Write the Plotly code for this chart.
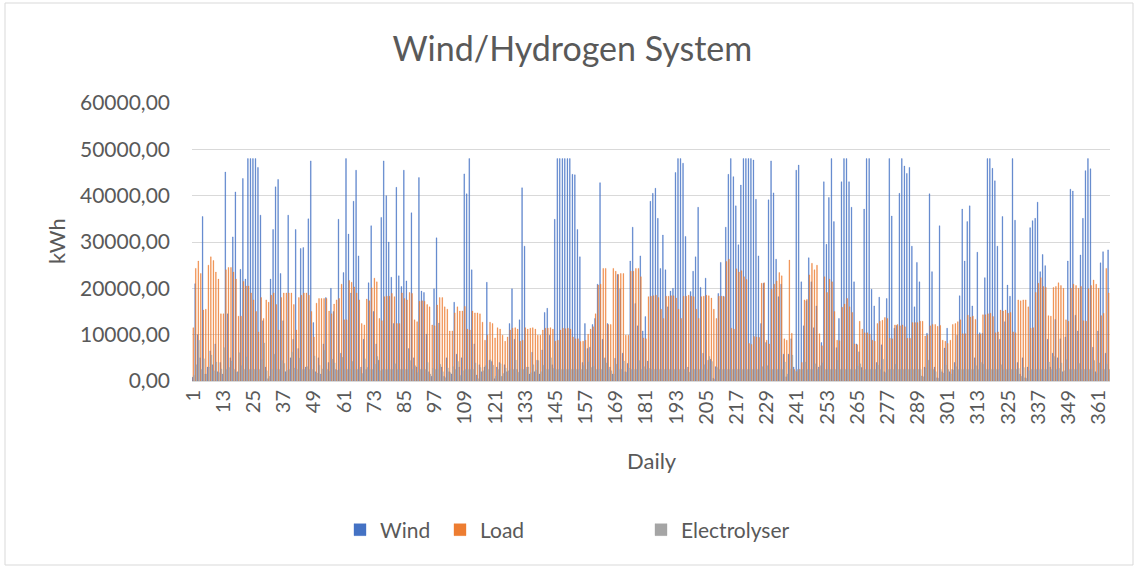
import plotly.graph_objects as go

# Daily energy values (kWh) for one year
days = list(range(1, 366))
tick_days = list(range(1, 366, 12))
tick_text = [str(d) for d in tick_days]

wind = [
    800, 21000, 10000, 5000, 35500, 1500, 3000, 6500, 3500, 8000,
    2000, 4000, 1500, 45100, 14500, 5000, 31100, 40800, 2000, 24100,
    43700, 22000, 48000, 48000, 48000, 48000, 46100, 35800, 13000, 3000,
    500, 22000, 32700, 41900, 43500, 23200, 13000, 2000, 35800, 5000,
    9000, 32700, 7000, 28600, 28800, 3000, 35000, 47500, 12600, 2000,
    5000, 1500, 8000, 18000, 4000, 20000, 15000, 2500, 34900, 6000,
    23400, 48000, 31700, 19000, 38800, 45500, 27000, 3000, 9000, 2500,
    21200, 33500, 15000, 8000, 4500, 35300, 47500, 40000, 30000, 22400,
    12400, 41800, 22700, 20400, 45500, 21600, 7000, 36300, 5000, 3000,
    43900, 19400, 19100, 10100, 2000, 1000, 19900, 30900, 12500, 3000,
    1000, 5000, 2000, 1500, 17000, 5800, 3000, 5000, 44700, 40400,
    48000, 24000, 8000, 1300, 3500, 2000, 3000, 21300, 4500, 4200,
    500, 3000, 4000, 1000, 3500, 2000, 12400, 19900, 9000, 2500,
    13200, 41700, 29100, 3000, 1500, 6200, 2000, 4500, 1500, 6700,
    14800, 15700, 9900, 3500, 34900, 48000, 48000, 48000, 48000, 48000,
    48000, 44600, 44500, 32700, 26800, 4000, 12400, 7000, 7300, 12200,
    13500, 20900, 42800, 9000, 5000, 12400, 3000, 1500, 4900, 23000,
    19900, 6000, 2000, 3800, 25900, 33200, 16700, 11900, 27000, 10800,
    13900, 4300, 38800, 40500, 41600, 35100, 24300, 31500, 24000, 16000,
    19400, 20000, 45000, 48000, 48000, 47000, 31200, 3000, 19300, 23700,
    26800, 37500, 20200, 6000, 22200, 4500, 4700, 600, 3100, 18900,
    25600, 18300, 33200, 44600, 48000, 44100, 37800, 29400, 42300, 48000,
    48000, 48000, 48000, 47700, 39200, 27000, 12400, 21100, 8300, 39100,
    47500, 40600, 26300, 18200, 20900, 5800, 900, 5800, 9100, 3000,
    45500, 46600, 21400, 11900, 17300, 26600, 21400, 11500, 16200, 3000,
    8300, 43000, 29500, 39600, 48000, 34400, 7200, 13500, 43000, 48000,
    48000, 43000, 37500, 21400, 8000, 6300, 2900, 37100, 48000, 48000,
    19800, 16200, 4000, 18100, 7800, 2000, 17800, 48000, 35600, 11400,
    12000, 40500, 48000, 46400, 44800, 46100, 29100, 16000, 25600, 21400,
    1100, 3000, 10300, 40400, 23600, 3000, 700, 33500, 2000, 7100,
    11400, 2000, 2500, 4000, 9900, 18400, 37100, 25900, 34400, 37800,
    16200, 5000, 27800, 10400, 10300, 22300, 48000, 48000, 45900, 43200,
    29100, 9000, 35500, 12800, 20700, 18300, 48000, 34700, 4000, 1500,
    5000, 700, 3000, 33100, 34600, 35100, 38600, 23600, 27300, 24900,
    9000, 3000, 6000, 13300, 5000, 9100, 2000, 9500, 25900, 41400,
    41000, 14200, 10800, 27200, 35100, 45400, 48000, 45800, 7300, 2000,
    10800, 25500, 27900, 6000, 28300,
]

load = [
    11500, 24300, 25900, 23200, 15300, 15500, 25000, 26800, 26000, 23500,
    22000, 14500, 14500, 24000, 24500, 24500, 23500, 22000, 14000, 14000,
    21500, 20500, 20500, 19000, 17500, 15000, 10600, 18000, 13500, 17500,
    17000, 18500, 19000, 16500, 11000, 18000, 19000, 19000, 19000, 19000,
    16500, 11000, 18000, 18500, 19000, 19000, 18500, 15000, 9500, 16800,
    17800, 17800, 17800, 17800, 15100, 14500, 16600, 17500, 17800, 20900,
    13200, 13200, 21700, 21300, 20300, 19000, 17500, 12400, 12100, 17700,
    17300, 20100, 22200, 21400, 13500, 13000, 18200, 18300, 18300, 18900,
    18200, 12400, 12400, 19000, 17800, 17500, 19100, 18900, 13200, 12800,
    17200, 17300, 17200, 16500, 16000, 12100, 11900, 16400, 18000, 18000,
    16000, 15500, 10800, 10800, 14700, 16000, 15100, 15100, 16100, 11200,
    11000, 15100, 14700, 14700, 14500, 12700, 8800, 9900, 12700, 12400,
    9300, 11500, 11200, 9900, 8600, 9500, 11000, 11400, 11500, 11200,
    8600, 8800, 11500, 11200, 11400, 11500, 11200, 9900, 9900, 11000,
    11400, 11400, 11500, 11200, 8600, 8800, 11000, 11400, 11300, 11400,
    11200, 9500, 9100, 9100, 8500, 8600, 8800, 10100, 11200, 11700,
    14500, 20700, 20900, 24300, 24300, 12200, 12200, 24300, 23700, 23000,
    23200, 23200, 9900, 9900, 23700, 23700, 24300, 24300, 22500, 9300,
    9100, 18200, 18300, 18400, 18500, 18000, 15500, 13500, 18300, 18300,
    18400, 18400, 17900, 15500, 13500, 18300, 18300, 18500, 18300, 18200,
    15500, 13500, 18200, 18300, 18500, 18400, 17900, 15500, 13500, 18300,
    18300, 18200, 25800, 26300, 11400, 11200, 24200, 23500, 23800, 22500,
    21900, 8100, 7900, 9600, 9500, 9400, 21100, 21200, 8800, 8000,
    19800, 20900, 21600, 23400, 22700, 9100, 8800, 26100, 10300, 2500,
    2000, 2500, 4000, 17500, 17600, 22900, 25400, 24000, 25000, 10200,
    7600, 22500, 19100, 22000, 21400, 15000, 8800, 8700, 15900, 16600,
    17800, 16000, 14800, 8000, 7800, 12900, 11200, 10400, 10400, 10100,
    8800, 8600, 12400, 12900, 13100, 13700, 13500, 9200, 9100, 12100,
    12200, 11900, 12100, 11700, 9200, 9200, 12600, 12600, 12600, 12900,
    12900, 9700, 9900, 11900, 12200, 12200, 11800, 12000, 8800, 8600,
    8100, 8800, 12200, 12400, 12800, 13200, 10200, 10200, 14200, 13800,
    14000, 13300, 10100, 10100, 14300, 14300, 14500, 14600, 13900, 10400,
    10600, 15300, 15100, 15300, 14600, 14800, 10600, 10400, 17500, 17300,
    17500, 17500, 16000, 11400, 11500, 19100, 21100, 22300, 20400, 20200,
    14100, 14000, 20200, 20400, 21200, 20600, 20000, 13200, 12900, 20000,
    20900, 20600, 20000, 20400, 13000, 12900, 19900, 20600, 21800, 20900,
    20000, 14100, 14600, 24300, 19000,
]

electrolyser = [
    1200, 3500, 8800, 2500, 4800, 1500, 3000, 5600, 2200, 4100,
    1800, 2600, 7200, 2500, 2900, 4300, 2500, 1900, 6100, 3300,
    2500, 5200, 2500, 2500, 2500, 2500, 2500, 4600, 8200, 2200,
    1000, 2500, 5800, 2500, 2500, 4400, 3800, 2300, 2500, 6200,
    2800, 2500, 4900, 2500, 2500, 3100, 2500, 2500, 5400, 1700,
    3400, 2600, 6600, 2500, 2100, 4700, 3900, 2300, 2500, 5100,
    2500, 2500, 2500, 4200, 2500, 2500, 2500, 1600, 4800, 2900,
    2500, 2500, 3600, 5300, 2200, 2500, 2500, 2500, 2500, 2500,
    3700, 2500, 2500, 2500, 2500, 2500, 4400, 2500, 3300, 1800,
    2500, 2500, 2500, 4000, 1500, 2700, 2500, 2500, 3600, 2000,
    700, 2800, 1800, 3100, 2500, 4200, 1200, 2200, 2500, 2500,
    2500, 2500, 3900, 500, 2900, 2200, 3300, 2500, 4600, 3400,
    1000, 2500, 3700, 1600, 2800, 2200, 2500, 2500, 4500, 1900,
    2500, 2500, 2500, 3000, 1800, 3500, 2400, 4400, 2000, 3400,
    2500, 2500, 5000, 2700, 2500, 2500, 2500, 2500, 2500, 2500,
    2500, 2500, 2500, 2500, 2500, 3300, 2500, 4100, 2900, 3200,
    2500, 2500, 2500, 4800, 3900, 2500, 2200, 1500, 3600, 2500,
    2500, 4300, 1900, 2800, 2500, 2500, 2500, 4400, 2500, 3100,
    2500, 2700, 2500, 2500, 2500, 2500, 2500, 2500, 2500, 2500,
    2500, 2500, 2500, 2500, 2500, 2500, 2500, 1900, 2500, 2500,
    2500, 2500, 2500, 3500, 2500, 5300, 4200, 400, 2900, 2500,
    2500, 2500, 2500, 2500, 2500, 2500, 2500, 2500, 2500, 2500,
    2500, 2500, 2500, 2500, 2500, 2500, 3100, 2500, 3300, 2500,
    2500, 2500, 2500, 2500, 2500, 4100, 1500, 2600, 5600, 2100,
    2500, 2500, 2500, 4100, 2500, 2500, 2500, 3700, 2500, 3300,
    3900, 2500, 2500, 2500, 2500, 2500, 4400, 2500, 2500, 2500,
    2500, 2500, 2500, 2500, 3200, 3700, 2300, 2500, 2500, 2500,
    2500, 2500, 3400, 2500, 4700, 1800, 2500, 2500, 2500, 3600,
    2500, 2500, 2500, 2500, 2500, 2500, 2500, 2500, 2500, 2500,
    900, 2700, 4500, 2500, 2500, 2000, 600, 2500, 1700, 3400,
    2500, 1500, 2400, 3100, 2500, 2500, 2500, 2500, 2500, 2500,
    2500, 3300, 2500, 4000, 3600, 2500, 2500, 2500, 2500, 2500,
    2500, 3500, 2500, 2500, 2500, 2500, 2500, 2500, 2700, 1000,
    2900, 600, 2200, 2500, 2500, 2500, 2500, 2500, 2500, 2500,
    4100, 2500, 5300, 2500, 2700, 3900, 2200, 4600, 2500, 2500,
    2500, 2500, 3800, 2500, 2500, 2500, 2500, 2500, 4400, 1600,
    3900, 2500, 2500, 3600, 2500,
]

TEXT = "#595959"
GRID = "#d9d9d9"
WIND_C, LOAD_C, ELEC_C = "#4472C4", "#ED7D31", "#A5A5A5"

# Plot-area pixel geometry, used to place the frame and labels
W, H = 1138, 568
L, R, T, B = 192, 28, 103, 187
PW, PH = W - L - R, H - T - B


def px(x):
    return (x - L) / PW


def py(y):
    return (H - B - y) / PH


fig = go.Figure()
for name, vals, color, leg in [
    ("Wind", wind, WIND_C, "legend"),
    ("Load", load, LOAD_C, "legend2"),
    ("Electrolyser", electrolyser, ELEC_C, "legend3"),
]:
    fig.add_bar(
        x=days, y=vals, name=name, legend=leg, showlegend=True,
        marker=dict(color=color, line=dict(color=color, width=0.35)),
    )

legend_style = dict(
    orientation="h", yanchor="middle", xanchor="left", visible=True,
    font=dict(size=21, color=TEXT), bgcolor="rgba(0,0,0,0)", itemwidth=30,
)

fig.update_layout(
    width=W, height=H,
    margin=dict(l=L, r=R, t=T, b=B),
    paper_bgcolor="white", plot_bgcolor="white",
    font=dict(family="Lato", color=TEXT),
    separators=", ",
    showlegend=True,
    barmode="group", bargap=0.2, bargroupgap=0.0,
    title=dict(text="Wind/Hydrogen System", x=0.503, xref="container",
               y=1 - 49 / H, yanchor="middle", font=dict(size=34, color=TEXT)),
    legend=dict(x=px(340), y=py(530), **legend_style),
    legend2=dict(x=px(440), y=py(530), **legend_style),
    legend3=dict(x=px(641), y=py(530), **legend_style),
    xaxis=dict(
        range=[0.5, 365.5], tickmode="array", tickvals=tick_days, ticktext=tick_text,
        tickangle=-90, tickfont=dict(size=20, color=TEXT), showgrid=False,
        showline=True, linecolor=GRID, linewidth=1, ticks="", zeroline=False,
    ),
    yaxis=dict(
        range=[0, 60000], dtick=10000, tickformat=".2f",
        tickfont=dict(size=21, color=TEXT), gridcolor=GRID, gridwidth=1,
        zeroline=False, ticks="", ticklabelstandoff=21,
    ),
    annotations=[
        dict(text="Daily", x=px(652), y=py(460), xref="paper", yref="paper",
             xanchor="center", yanchor="middle",
             showarrow=False, font=dict(size=22, color=TEXT)),
        dict(text="kWh", x=px(56), y=py(241), xref="paper", yref="paper",
             xanchor="center", yanchor="middle",
             showarrow=False, textangle=-90, font=dict(size=22, color=TEXT)),
    ],
    shapes=[
        dict(type="rect", xref="paper", yref="paper",
             x0=px(5), x1=px(1133), y0=py(565), y1=py(3),
             line=dict(color=GRID, width=1), fillcolor="rgba(0,0,0,0)", layer="below"),
    ],
)

fig.write_html("out.html")
